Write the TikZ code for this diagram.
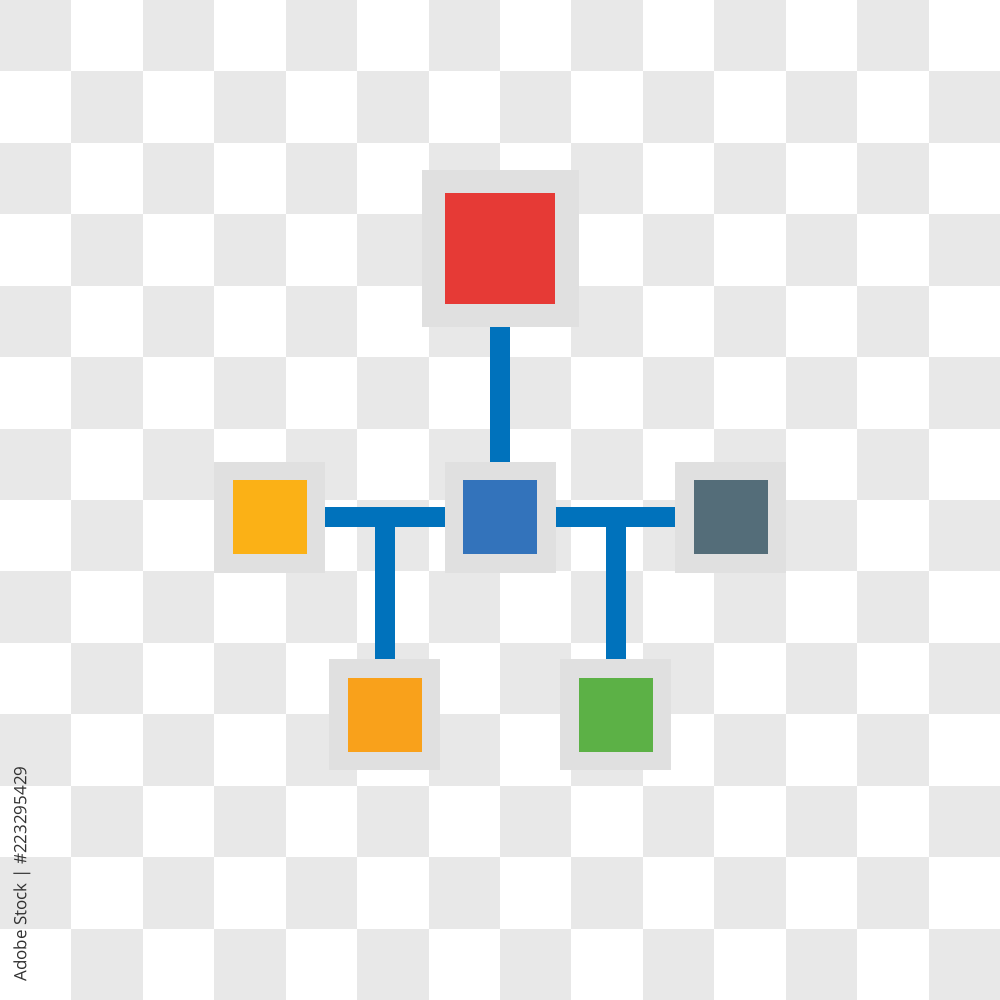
\documentclass[tikz,border=0pt]{standalone}
\usepackage{fontspec}
\setmainfont{Open Sans}
\definecolor{checker}{RGB}{232,232,232}
\definecolor{boxgray}{RGB}{224,224,224}
\definecolor{cred}{RGB}{230,58,54}
\definecolor{cblue}{RGB}{51,115,187}
\definecolor{cyellow}{RGB}{251,177,22}
\definecolor{cslate}{RGB}{84,109,121}
\definecolor{corange}{RGB}{249,161,27}
\definecolor{cgreen}{RGB}{92,177,70}
\definecolor{cconn}{RGB}{0,114,188}
\definecolor{ctext}{RGB}{50,50,50}
\tikzset{
  outerbox/.style={fill=boxgray, draw=none, inner sep=0pt, outer sep=0pt, minimum size=111pt},
  bigouter/.style={outerbox, minimum size=157pt},
  innerbox/.style={draw=none, inner sep=0pt, outer sep=0pt, minimum size=74pt},
  biginner/.style={innerbox, minimum size=110pt},
  conn/.style={draw=cconn, line width=20pt, line cap=butt},
}
\begin{document}
\begin{tikzpicture}[x=1pt,y=-1pt]
\useasboundingbox (0,0) rectangle (1000,1000);
\fill[white] (0,0) rectangle (1000,1000);
\foreach \i in {0,...,13}{
  \foreach \j in {0,...,13}{
    \pgfmathtruncatemacro\p{mod(\i+\j,2)}
    \ifnum\p=0
      \fill[checker] (\i*71.4286,\j*71.4286) rectangle ++(71.4286,71.4286);
    \fi
  }
}
% nodes
\node[bigouter] (top) at (500,248.5) {};
\node[biginner, fill=cred] (topin) at (500,248.5) {};
\node[outerbox] (center) at (500,517) {};
\node[innerbox, fill=cblue] (centerin) at (500,517) {};
\node[outerbox] (left) at (269.5,517) {};
\node[innerbox, fill=cyellow] (leftin) at (269.5,517) {};
\node[outerbox] (right) at (730.5,517) {};
\node[innerbox, fill=cslate] (rightin) at (730.5,517) {};
\node[outerbox] (bl) at (384.5,714.5) {};
\node[innerbox, fill=corange] (blin) at (384.5,714.5) {};
\node[outerbox] (br) at (615.5,714.5) {};
\node[innerbox, fill=cgreen] (brin) at (615.5,714.5) {};
% connectors
\draw[conn] (top.south) -- (center.north);
\draw[conn] (left.east) -- (center.west);
\draw[conn] (center.east) -- (right.west);
\coordinate (lj) at (bl.north |- left.east);
\coordinate (rj) at (br.north |- right.west);
\draw[conn] (lj) -- (bl.north);
\draw[conn] (rj) -- (br.north);
% stock id
\node[rotate=90, text=ctext, font=\fontsize{17}{17}\selectfont, inner sep=0pt] (sid) at (22,874) {Adobe Stock | \#223295429};
\end{tikzpicture}
\end{document}
